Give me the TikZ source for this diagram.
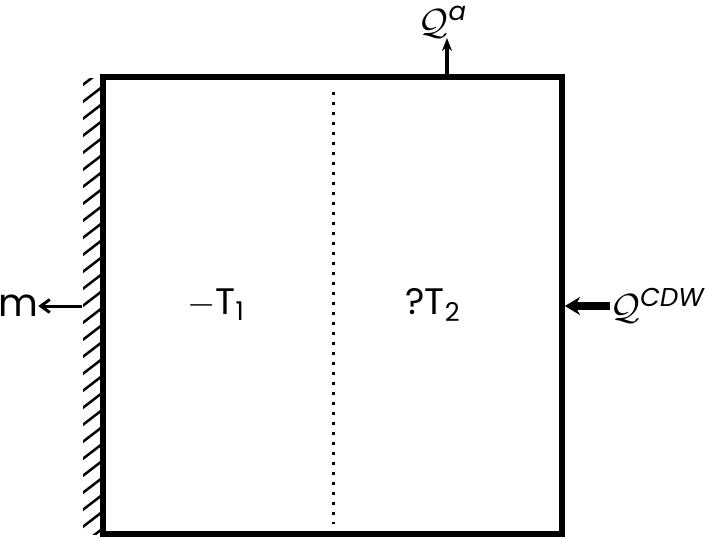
\documentclass[tikz,border=0pt]{standalone}
\usepackage{amsmath}
\usepackage{fontspec}
\setmainfont{Poppins}
\usetikzlibrary{arrows.meta,positioning}

\begin{document}
\begin{tikzpicture}[
  x=0.02cm, y=-0.02cm,
  font=\fontsize{21}{24}\selectfont,
  cell/.style={draw, line width=0.12cm, minimum width=9.18cm, minimum height=9.14cm, inner sep=0pt},
  hatch/.style={line width=0.05cm},
  divider/.style={line width=0.06cm, dash pattern=on 0.06cm off 0.14cm},
  flux/.style={-{Stealth[length=0.26cm, width=0.2cm]}, line width=0.08cm},
  fluxbig/.style={-{Stealth[length=0.3cm, width=0.36cm]}, line width=0.16cm},
  pull/.style={-{Straight Barb[length=0.18cm, width=0.26cm]}, line width=0.06cm},
  lbl/.style={inner sep=0pt},
]
\useasboundingbox (0,0) rectangle (707,539);

% wall hatching on the left
\begin{scope}
  \clip (83,78) rectangle (102,534);
  \foreach \y in {70,87,...,570}
    \draw[hatch] (80,\y) -- (106,\y-20);
\end{scope}

% the cell
\node[cell] (box) at (332.5,305.5) {};
\draw[divider] (333,92) -- (333,524);

% temperatures
\node[lbl] (t1) at (216,305) {$-$T\textsubscript{1}};
\node[lbl] (t2) at (433,305) {?T\textsubscript{2}};

% fluxes
\coordinate (topout) at (447,77);
\node[lbl, anchor=south] (qa) at (443,38) {$\mathcal{Q}^{\textit{a}}$};
\draw[flux] (topout) -- (qa.south -| topout);

\node[lbl, anchor=west] (qcdw) at (610,306) {$\mathcal{Q}^{\textit{CDW}}$};
\draw[fluxbig] (qcdw.west) -- (box.east |- qcdw.west);

\coordinate (wallout) at (82,306);
\node[lbl, font=\fontsize{22}{26}\selectfont] (m) at (18,306) {m};
\draw[pull] (wallout) -- (m.east |- wallout);
\end{tikzpicture}
\end{document}
